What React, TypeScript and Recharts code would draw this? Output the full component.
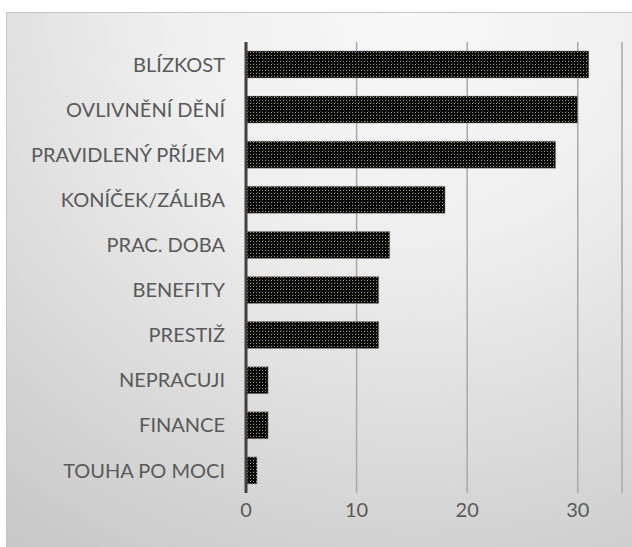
import React from "react";
import { BarChart, Bar, XAxis, YAxis, CartesianGrid } from "recharts";

const categories = [
  "BLÍZKOST",
  "OVLIVNĚNÍ DĚNÍ",
  "PRAVIDLENÝ PŘÍJEM",
  "KONÍČEK/ZÁLIBA",
  "PRAC. DOBA",
  "BENEFITY",
  "PRESTIŽ",
  "NEPRACUJI",
  "FINANCE",
  "TOUHA PO MOCI",
];
const values = [31, 30, 28, 18, 13, 12, 12, 2, 2, 1];
const xTicks = [0, 10, 20, 30];

const data = categories.map((name, i) => ({ name, value: values[i] }));

export default function App() {
  return (
    <div
      style={{
        position: "absolute",
        left: 6,
        top: 12,
        width: 628,
        height: 537,
        boxSizing: "border-box",
        border: "1px solid #c4c4c4",
        background:
          "radial-gradient(ellipse 110% 120% at 65% 0%, #f8f8f8 0%, #efefef 35%, #dadada 70%, #c8c8c8 100%)",
      }}
    >
      <BarChart
        width={626}
        height={535}
        data={data}
        layout="vertical"
        margin={{ top: 29, right: 11, bottom: 25, left: 0 }}
      >
        <defs>
          <pattern id="dots" width="6" height="6" patternUnits="userSpaceOnUse">
            <rect width="6" height="6" fill="#050505" />
            <rect x="0" y="0" width="1" height="1" fill="#8f8f8f" />
            <rect x="3" y="0" width="1" height="1" fill="#c0ab4c" />
            <rect x="0" y="3" width="1" height="1" fill="#c0ab4c" />
            <rect x="3" y="3" width="1" height="1" fill="#8f8f8f" />
            <rect x="1" y="2" width="1" height="1" fill="#444" />
            <rect x="4" y="5" width="1" height="1" fill="#444" />
          </pattern>
        </defs>
        <CartesianGrid
          horizontal={false}
          vertical={true}
          stroke="#a8a8a8"
          strokeWidth={1.5}
        />
        <XAxis
          type="number"
          domain={[0, 34]}
          ticks={xTicks}
          axisLine={false}
          tickLine={false}
          tickSize={0}
          tickMargin={10}
          height={30}
          tick={{ fill: "#595959", fontSize: 20, fontFamily: "Lato, 'Open Sans', sans-serif" }}
        />
        <YAxis
          type="category"
          dataKey="name"
          width={239}
          axisLine={{ stroke: "#404040", strokeWidth: 3 }}
          tickLine={false}
          tickSize={0}
          tickMargin={21}
          interval={0}
          tick={{ fill: "#595959", fontSize: 20, fontFamily: "Lato, 'Open Sans', sans-serif" }}
        />
        <Bar
          dataKey="value"
          barSize={27}
          fill="url(#dots)"
          stroke="#9a9a9a"
          strokeWidth={1}
          strokeDasharray="1 1"
          isAnimationActive={false}
        />
      </BarChart>
    </div>
  );
}
